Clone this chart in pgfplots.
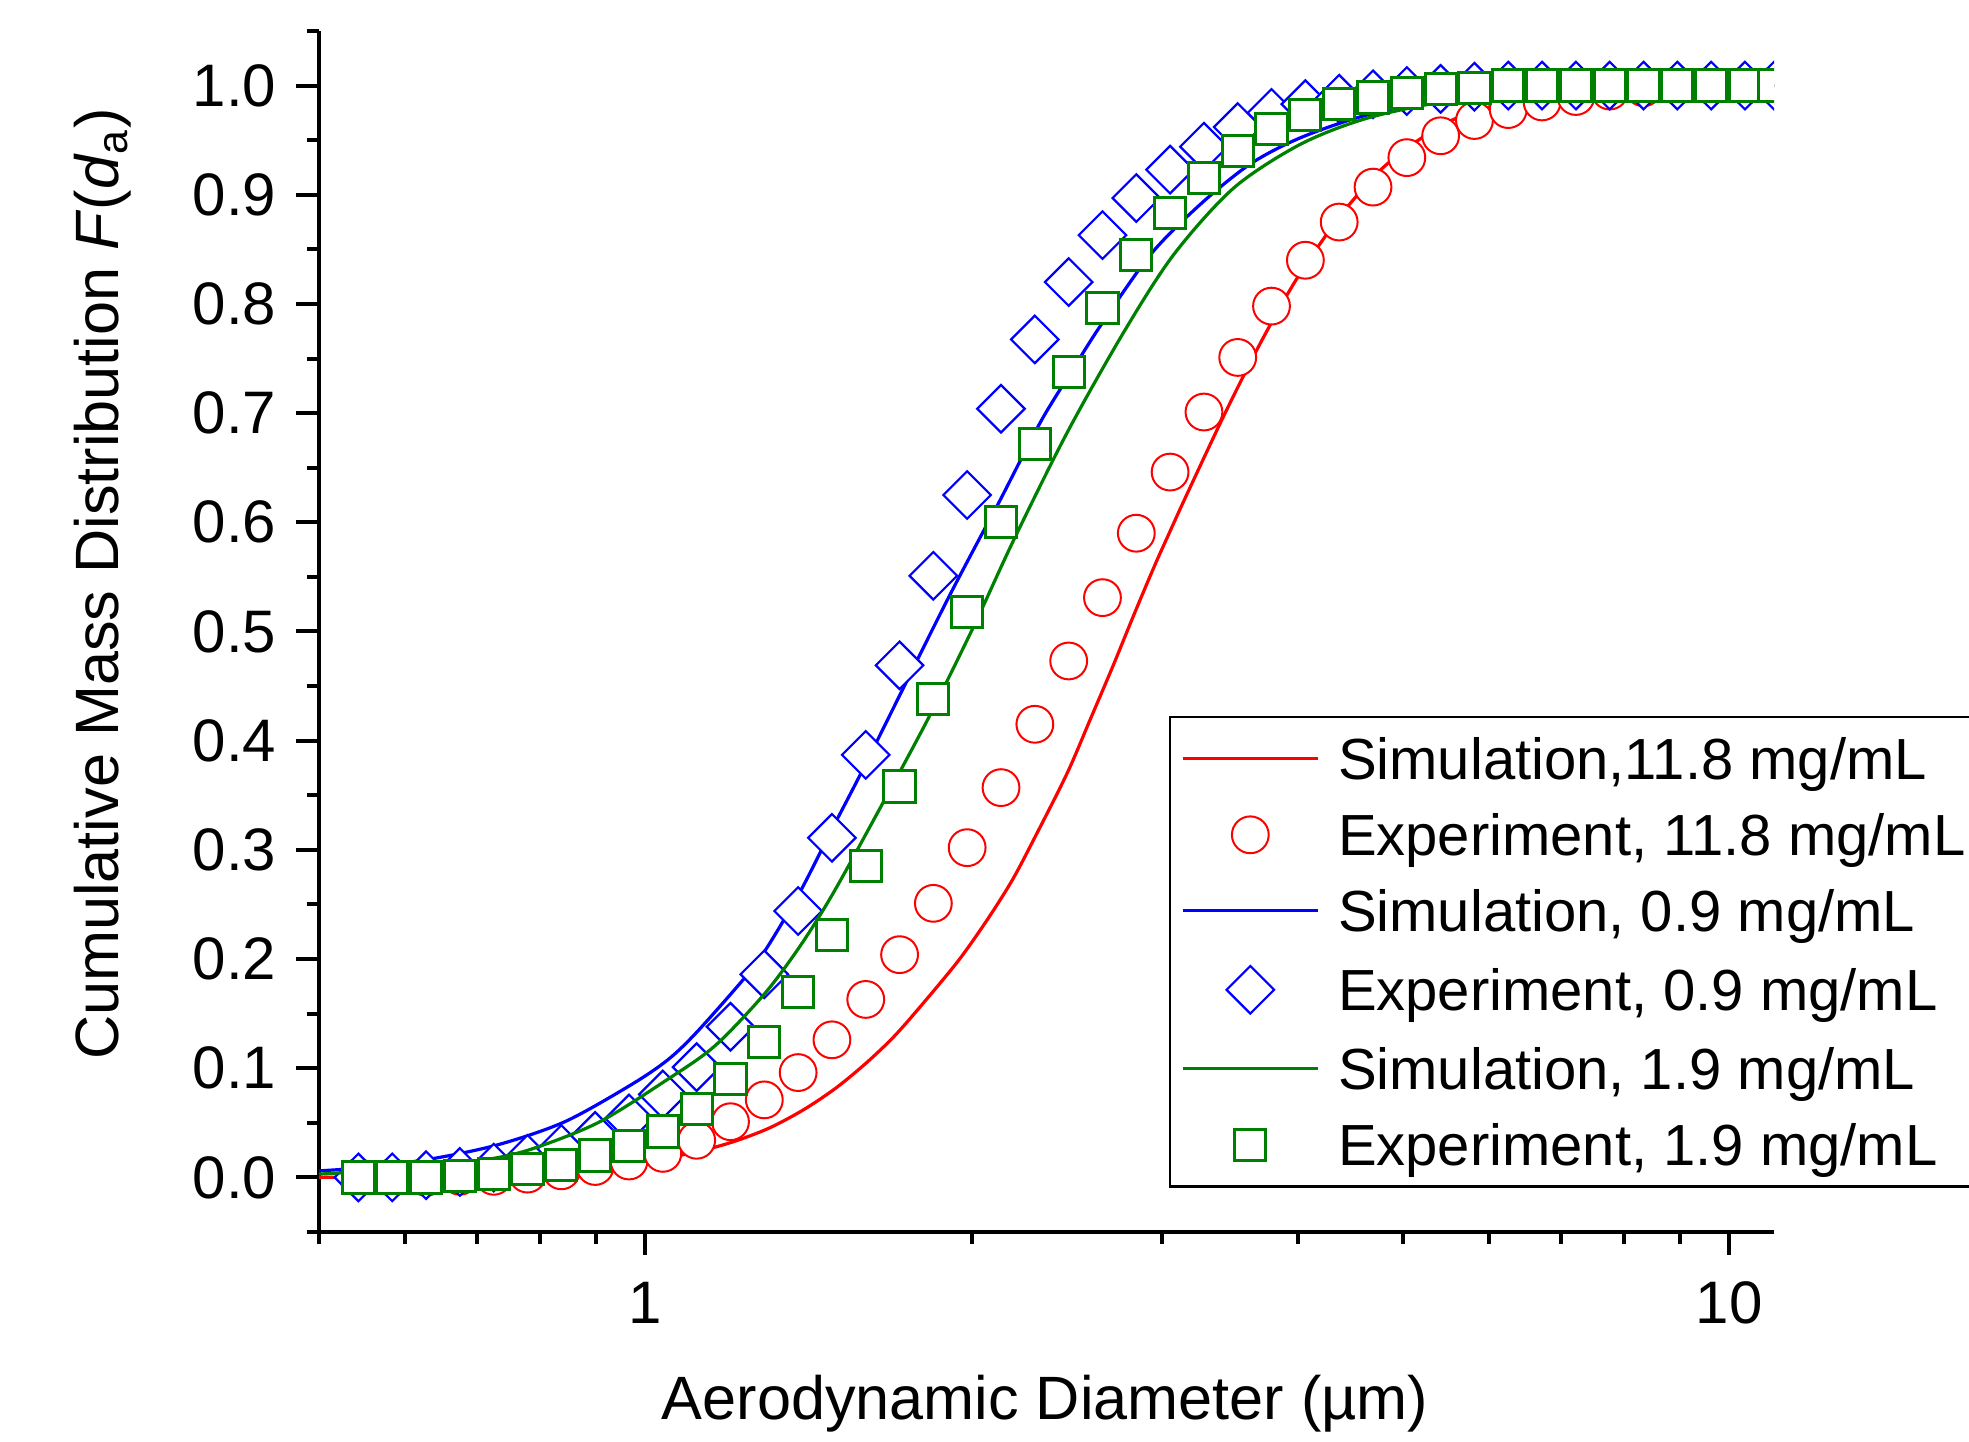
\documentclass[border=0pt]{standalone}
\usepackage{fontspec}
\setmainfont{Liberation Sans}
\usepackage{pgfplots}
\pgfplotsset{compat=1.18}
\usepackage{pgfplotstable}

\definecolor{cred}{RGB}{255,0,0}
\definecolor{cblue}{RGB}{0,0,255}
\definecolor{cgreen}{RGB}{0,128,0}

\pgfplotstableread{
x red blue green
0.5437 0.000 0.000 0.000
0.5842 0.000 0.000 0.000
0.6277 0.000 0.002 0.000
0.6745 0.001 0.005 0.001
0.7248 0.001 0.009 0.003
0.7788 0.003 0.017 0.0075
0.8368 0.006 0.026 0.011
0.8990 0.010 0.038 0.020
0.9661 0.015 0.054 0.029
1.0381 0.022 0.076 0.042
1.1154 0.034 0.101 0.063
1.1985 0.051 0.138 0.090
1.2878 0.071 0.186 0.124
1.3837 0.096 0.244 0.170
1.4868 0.126 0.311 0.222
1.5975 0.163 0.387 0.285
1.7165 0.204 0.469 0.358
1.8444 0.251 0.551 0.438
1.9818 0.302 0.625 0.518
2.1293 0.357 0.704 0.600
2.2879 0.415 0.7675 0.672
2.4584 0.473 0.820 0.7375
2.6414 0.531 0.863 0.796
2.8382 0.590 0.897 0.845
3.0496 0.646 0.923 0.883
3.2768 0.701 0.944 0.915
3.5207 0.751 0.962 0.940
3.7830 0.798 0.975 0.960
4.0647 0.840 0.983 0.973
4.3674 0.875 0.988 0.983
4.6928 0.907 0.992 0.989
5.0423 0.934 0.995 0.993
5.4178 0.954 0.997 0.997
5.8213 0.968 0.999 0.998
6.2549 0.978 1.000 1.000
6.7208 0.985 1.000 1.000
7.2213 0.990 1.000 1.000
7.7592 0.995 1.000 1.000
8.3371 0.998 1.000 1.000
8.9580 1.000 1.000 1.000
9.6252 1.000 1.000 1.000
10.3421 1.000 1.000 1.000
11.0 1.000 1.000 1.000
}\expdata

\pgfplotstableread{
x y
0.50 0.000
0.60 0.001
0.70 0.003
0.80 0.006
0.90 0.010
1.00 0.015
1.10 0.022
1.20 0.032
1.30 0.045
1.40 0.062
1.50 0.082
1.60 0.105
1.70 0.130
1.821 0.164
1.95 0.200
2.068 0.236
2.18 0.272
2.284 0.310
2.45 0.370
2.575 0.420
2.70 0.468
2.823 0.515
2.95 0.560
3.05 0.592
3.138 0.619
3.367 0.684
3.539 0.728
3.731 0.772
3.963 0.818
4.20 0.856
4.436 0.888
4.796 0.925
5.22 0.953
5.60 0.970
6.36 0.987
7.5 0.996
9 0.999
11 1.000
}\simred

\pgfplotstableread{
x y
0.50 0.006
0.55 0.009
0.635 0.017
0.732 0.030
0.843 0.051
0.971 0.085
1.05 0.108
1.118 0.134
1.243 0.186
1.30 0.213
1.392 0.263
1.48 0.315
1.581 0.370
1.72 0.443
1.90 0.529
2.054 0.593
2.127 0.621
2.316 0.692
2.48 0.740
2.630 0.780
2.924 0.845
3.25 0.891
3.614 0.928
4.018 0.952
4.63 0.973
5.5 0.988
6.5 0.995
8 0.999
11 1.000
}\simblue

\pgfplotstableread{
x y
0.50 0.003
0.60 0.008
0.70 0.015
0.78 0.025
0.904 0.050
1.042 0.088
1.158 0.120
1.288 0.168
1.392 0.213
1.494 0.262
1.661 0.345
1.828 0.422
2.01 0.505
2.188 0.584
2.45 0.682
2.763 0.774
3.072 0.845
3.489 0.906
4.018 0.946
4.63 0.970
5.5 0.986
6.5 0.994
8 0.998
11 1.000
}\simgreen

\pgfplotsset{
  simline/.style={no marks, line width=0.8pt,
    legend image code/.code={\draw[##1] (0pt,0pt) -- (33.75pt,0pt);}},
  expmark/.style={only marks,
    legend image code/.code={\draw[##1] plot coordinates {(16.875pt,0pt)};}},
}

\begin{document}
\begin{tikzpicture}
\begin{axis}[
  at={(79.75pt,52.5pt)}, anchor=south west,
  scale only axis, width=363.75pt, height=300.25pt,
  xmode=log, log basis x=10,
  xmin=0.5, xmax=11, ymin=-0.05, ymax=1.05,
  axis x line*=bottom, axis y line*=left,
  axis line style={-, line width=1pt, black},
  xtick={1,10}, xticklabels={1,10},
  minor xtick={0.5,0.6,0.7,0.8,0.9,2,3,4,5,6,7,8,9},
  ytick={0,0.1,0.2,0.3,0.4,0.5,0.6,0.7,0.8,0.9,1.0},
  minor ytick={-0.05,0.05,0.15,0.25,0.35,0.45,0.55,0.65,0.75,0.85,0.95,1.05},
  tick align=outside,
  major tick length=5.75pt, minor tick length=3pt,
  tick style={line width=1pt, black},
  /pgf/number format/assume math mode=true,
  yticklabel style={/pgf/number format/.cd, fixed, fixed zerofill, precision=1, /tikz/.cd,
     anchor=east, inner sep=0pt, xshift=-4.75pt},
  xticklabel style={anchor=north, inner sep=0pt, yshift=-6.5pt},
  tick label style={font=\fontsize{15}{18}\selectfont},
  label style={font=\fontsize{15.3}{18}\selectfont},
  xlabel={Aerodynamic Diameter (µm)},
  xlabel style={at={(axis description cs:0.499,-0.1565)}, anchor=base},
  ylabel={Cumulative Mass Distribution \textit{F}(\textit{d}\textsubscript{a})},
  ylabel style={at={(axis description cs:-0.1375,0.5396)}, anchor=base},
  clip marker paths=true,
  legend style={at={(0.5842,0.4298)}, anchor=north west, draw=black, line width=0.6pt,
    fill=white, inner xsep=2.75pt, inner ysep=5.25pt,
    font=\fontsize{14.5}{17}\selectfont, row sep=8.6pt, column sep=4.65pt,
    cells={anchor=west},
    nodes={inner sep=0pt, text height=10.4pt, text depth=0pt}},
]
\addplot[simline, cred, smooth] table[x=x, y=y] {\simred};
\addlegendentry{Simulation,11.8 mg/mL}
\addplot[expmark, cred, mark=*, mark size=4.6pt, mark options={fill=white, line width=0.5pt}]
  table[x=x, y=red] {\expdata};
\addlegendentry{Experiment, 11.8 mg/mL}
\addplot[simline, cblue, smooth] table[x=x, y=y] {\simblue};
\addlegendentry{Simulation, 0.9 mg/mL}
\addplot[expmark, cblue, mark=square*, mark size=4.2pt, mark options={rotate=45, fill=white, line width=0.55pt}]
  table[x=x, y=blue] {\expdata};
\addlegendentry{Experiment, 0.9 mg/mL}
\addplot[simline, cgreen, smooth] table[x=x, y=y] {\simgreen};
\addlegendentry{Simulation, 1.9 mg/mL}
\addplot[expmark, cgreen, mark=square*, mark size=3.9pt, mark options={fill=white, line width=0.75pt}]
  table[x=x, y=green] {\expdata};
\addlegendentry{Experiment, 1.9 mg/mL}
\end{axis}
\pgfresetboundingbox
\path[use as bounding box] (0pt,0pt) rectangle (492.25pt,360.5pt);
\end{tikzpicture}
\end{document}
